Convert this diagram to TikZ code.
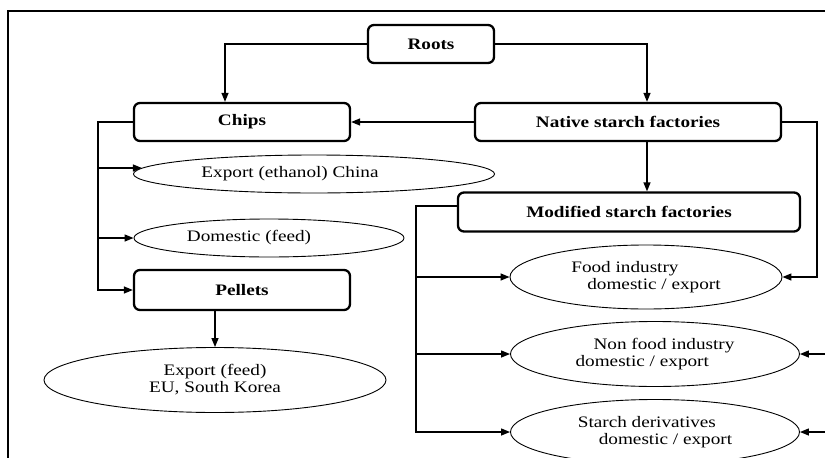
\documentclass[tikz,border=0pt]{standalone}
\usepackage{fontspec}
\setmainfont{Liberation Serif}[FakeStretch=1.2]
\usetikzlibrary{shapes.geometric,arrows.meta}

\begin{document}
\begin{tikzpicture}[x=1pt, y=-1pt,
  box/.style={draw, line width=2.3pt, rounded corners=6pt, inner sep=0pt, font=\fontsize{16}{17}\selectfont\bfseries},
  oval/.style={draw, ellipse, line width=0.9pt, inner sep=0pt, align=left},
  arr/.style={line width=1.3pt, -{Triangle[length=9pt,width=7pt]}},
  every node/.style={font=\fontsize{16}{17}\selectfont}]

 \useasboundingbox (0,0) rectangle (825,458);
 \draw[line width=1.2pt] (825,11) -- (8,11) -- (8,458);

 % boxes
 \node[box, minimum width=126pt, minimum height=38pt] (roots) at (431,44) {Roots};
 \node[box, minimum width=216pt, minimum height=38pt] (chips) at (242,122) {Chips};
 \node[box, minimum width=306pt, minimum height=38pt] (native) at (628,122) {Native starch factories};
 \node[box, minimum width=342pt, minimum height=39pt] (modified) at (629,212) {Modified starch factories};
 \node[box, minimum width=216pt, minimum height=40pt] (pellets) at (242,290) {Pellets};

 % ellipses
 \node[oval, minimum width=361pt, minimum height=38pt] (ethanol) at (314,174) {Export (ethanol) China\hspace*{48pt}};
 \node[oval, minimum width=270pt, minimum height=38pt] (domestic) at (269,238) {Domestic (feed)\hspace*{40pt}};
 \node[oval, align=center, minimum width=342pt, minimum height=65pt] (exfeed) at (215,380) {Export (feed)\\EU, South Korea};
 \node[oval, minimum width=272pt, minimum height=64pt] (food) at (646,277) {Food industry\\\hspace*{16pt}domestic / export};
 \node[oval, minimum width=289pt, minimum height=65pt] (nonfood) at (655,354) {\hspace*{18pt}Non food industry\\domestic / export};
 \node[oval, minimum width=289pt, minimum height=65pt] (starch) at (655,432) {Starch derivatives\\\hspace*{21pt}domestic / export};

 % bends and free ends
 \coordinate (lft) at (225,44);
 \coordinate (mid) at (647,44);
 \coordinate (lbus) at (98,122);
 \coordinate (rbus) at (416,206);
 \coordinate (rside) at (817,122);
 \coordinate (nfin) at (825,354);
 \coordinate (stin) at (825,432);

 % lines
 \draw[arr] (roots.west) -| (lft |- chips.north);
 \draw[arr] (roots.east) -| (mid |- native.north);
 \draw[arr] (native.west) -- (chips.east);
 \draw[arr] (mid |- native.south) -- (mid |- modified.north);

 \draw[arr] (chips.west) -- (lbus) |- (pellets.west);
 \draw[arr] (lbus |- ethanol.178) -- (ethanol.178);
 \draw[arr] (lbus |- domestic.west) -- (domestic.west);
 \draw[arr] (pellets.south -| exfeed.north) -- (exfeed.north);

 \draw[arr] (rbus -| modified.west) -- (rbus) |- (starch.west);
 \foreach \n in {food, nonfood}
   \draw[arr] (rbus |- \n.west) -- (\n.west);

 \draw[arr] (native.east) -- (rside) |- (food.east);
 \draw[arr] (nfin) -- (nonfood.east);
 \draw[arr] (stin) -- (starch.east);

\end{tikzpicture}
\end{document}
